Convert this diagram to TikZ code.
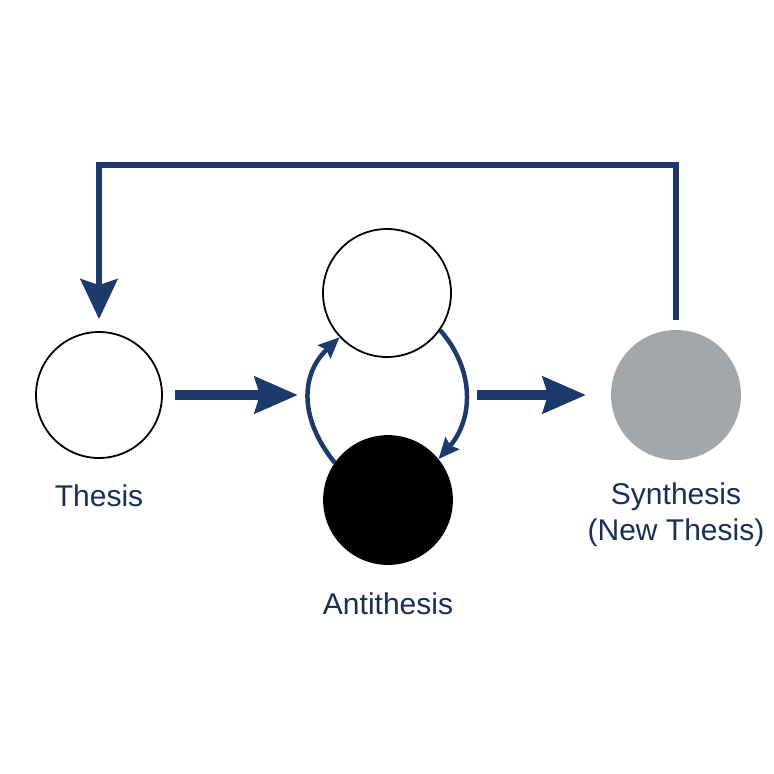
\documentclass[tikz,border=0pt]{standalone}
\usepackage{fontspec}
\setmainfont{Liberation Sans}
\usetikzlibrary{arrows.meta,positioning}

\definecolor{navy}{HTML}{1D3A6C}
\definecolor{labelblue}{HTML}{1B2E58}
\definecolor{synthgray}{HTML}{A4A7AA}

\begin{document}
\begin{tikzpicture}[
    x=1pt, y=-1pt,
    stage/.style={circle, draw=black, line width=1.8pt, minimum size=128pt, inner sep=0pt},
    caption/.style={inner sep=0pt, align=center, text=labelblue, font=\fontsize{30}{36}\selectfont},
    flow/.style={-{Stealth[length=43pt, width=36pt, inset=5pt]}, line width=9.5pt, navy},
    turn/.style={-{Stealth[length=21pt, width=18pt, inset=3pt]}, line width=4.5pt, navy},
    back/.style={-{Stealth[length=40pt, width=37pt, inset=6pt]}, line width=6pt, navy}
]
\useasboundingbox (0,0) rectangle (774,774);

% the four circles
\node[stage, minimum size=126pt] (thesis) at (99,395) {};
\node[stage, minimum size=128pt] (anti1) at (387,293) {};
\node[stage, fill=black, minimum size=128pt] (anti2) at (388,500) {};
\node[stage, draw=none, fill=synthgray, minimum size=130pt] (synth) at (676,395) {};

% captions
\node[caption, below=26pt of thesis] (thesisL) {Thesis};
\node[caption, below=28pt of anti2] (antiL) {Antithesis};
\node[caption, below=22pt of synth] (synthL) {Synthesis\\(New Thesis)};

% free ends
\coordinate (pairW) at (298,395);
\coordinate (pairE) at (477,395);
\coordinate (ret) at (387,165);

\draw[flow] ([xshift=12pt]thesis.east) -- (pairW);
\draw[flow] (pairE) -- ([xshift=-24pt]synth.west);

% inner cycle
\draw[turn] (anti2.145) .. controls +(-35,-43) and +(-40,38) .. (anti1.223);
\draw[turn] (anti1.325) .. controls +(35,40) and +(35,-40) .. (anti2.39);

% feedback to thesis
\draw[back] ([yshift=9pt]synth.north) -- (synth.north |- ret) -| ([yshift=12pt]thesis.north);
\end{tikzpicture}
\end{document}
